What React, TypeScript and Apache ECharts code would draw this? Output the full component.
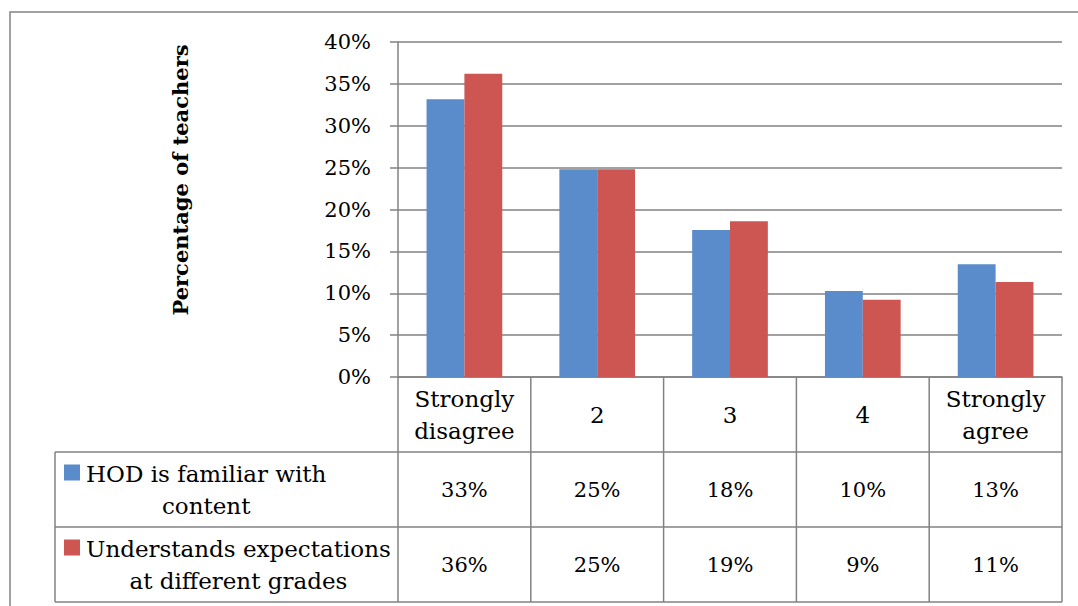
import React, { useEffect, useRef } from "react";
import * as echarts from "echarts";

const categories = ["Strongly\ndisagree", "2", "3", "4", "Strongly\nagree"];
const seriesNames = ["HOD is familiar with content", "Understands expectations at different grades"];
const seriesLabelLines = [
  ["HOD is familiar with", "content"],
  ["Understands expectations", "at different grades"],
];
const hodFamiliar = [33.15, 24.8, 17.55, 10.27, 13.45];
const understandsExpectations = [36.2, 24.8, 18.6, 9.23, 11.34];
const yMin = 0;
const yMax = 40;
const yInterval = 5;
const yTitle = "Percentage of teachers";

const colors = ["#5A8BCB", "#CD5653"];
const FONT = "'DejaVu Serif', serif";
const FS_NUM = 21;
const FS_TXT = 23;
const LH = 32;
const W = 1078;
const H = 606;
const PLOT_L = 398;
const PLOT_R = 1062;
const PLOT_T = 42;
const PLOT_B = 377;
const ROW_H = 75;
const TABLE_L = 55;
const LINE = "#828282";
const LW = 1.5;

function measure(text: string, font: string): number {
  const c = document.createElement("canvas").getContext("2d");
  if (!c) return text.length * 11;
  c.font = font;
  return c.measureText(text).width;
}

export default function App() {
  const ref = useRef<HTMLDivElement>(null);
  useEffect(() => {
    if (!ref.current) return;
    const chart = echarts.init(ref.current, null, { renderer: "svg" });
    const seriesData = [hodFamiliar, understandsExpectations];
    const n = categories.length;
    const colW = (PLOT_R - PLOT_L) / n;
    const graphic: any[] = [];
    const line = (x1: number, y1: number, x2: number, y2: number) =>
      graphic.push({ type: "line", shape: { x1, y1, x2, y2 }, style: { stroke: LINE, lineWidth: LW }, z: 10 });

    // outer frame
    graphic.push({ type: "rect", shape: { x: 10, y: 12, width: 1200, height: 800 }, style: { fill: "none", stroke: LINE, lineWidth: LW }, z: 0 });

    const rowTops = [PLOT_B, PLOT_B + ROW_H, PLOT_B + 2 * ROW_H, PLOT_B + 3 * ROW_H];
    for (let r = 1; r < rowTops.length; r++) line(TABLE_L, rowTops[r], PLOT_R, rowTops[r]);
    line(TABLE_L, rowTops[1], TABLE_L, rowTops[3]);
    for (let i = 0; i <= n; i++) {
      const x = PLOT_L + i * colW;
      line(x, PLOT_B, x, rowTops[3]);
    }
    seriesData.forEach((arr, s) => {
      const cy = rowTops[s + 1] + ROW_H / 2;
      arr.forEach((v, i) => {
        graphic.push({
          type: "text",
          x: PLOT_L + (i + 0.5) * colW,
          y: cy,
          style: { text: Math.round(v) + "%", fontSize: FS_NUM, fontFamily: FONT, fill: "#000", align: "center", verticalAlign: "middle" },
          z: 11,
        });
      });
      const lines = seriesLabelLines[s];
      const textLeft = 86;
      const w1 = measure(lines[0], `${FS_TXT}px 'DejaVu Serif'`);
      graphic.push({
        type: "rect",
        shape: { x: 64, y: cy - LH / 2 - 9, width: 16, height: 16 },
        style: { fill: colors[s] },
        z: 11,
      });
      graphic.push({
        type: "text",
        x: textLeft + w1 / 2,
        y: cy,
        style: { text: lines.join("\n"), fontSize: FS_TXT, fontFamily: FONT, fill: "#000", align: "center", verticalAlign: "middle", lineHeight: LH },
        z: 11,
      });
    });
    graphic.push({
      type: "text",
      x: 180,
      y: 180,
      rotation: Math.PI / 2,
      style: { text: yTitle, fontSize: 21, fontWeight: "bold", fontFamily: FONT, fill: "#000", align: "center", verticalAlign: "middle" },
      z: 11,
    });

    chart.setOption({
      animation: false,
      backgroundColor: "#fff",
      grid: { left: PLOT_L, right: W - PLOT_R, top: PLOT_T, bottom: H - PLOT_B, containLabel: false },
      xAxis: {
        type: "category",
        data: categories,
        axisLine: { show: true, lineStyle: { color: LINE, width: LW } },
        axisTick: { show: false },
        axisLabel: { fontSize: FS_TXT, fontFamily: FONT, color: "#000", lineHeight: LH, verticalAlign: "middle", margin: ROW_H / 2, interval: 0 },
      },
      yAxis: {
        type: "value",
        min: yMin,
        max: yMax,
        interval: yInterval,
        axisLine: { show: true, lineStyle: { color: LINE, width: LW } },
        axisTick: { show: true, length: 8, lineStyle: { color: LINE, width: LW } },
        splitLine: { show: true, lineStyle: { color: LINE, width: LW } },
        axisLabel: { formatter: "{value}%", fontSize: FS_NUM, fontFamily: FONT, color: "#000", margin: 27 },
      },
      series: seriesData.map((d, s) => ({
        name: seriesNames[s],
        type: "bar",
        data: d,
        barGap: "0%",
        barCategoryGap: "43%",
        itemStyle: { color: colors[s] },
      })),
      graphic,
    });
    return () => chart.dispose();
  }, []);
  return <div ref={ref} style={{ position: "fixed", left: 0, top: 0, width: W, height: H }} />;
}
